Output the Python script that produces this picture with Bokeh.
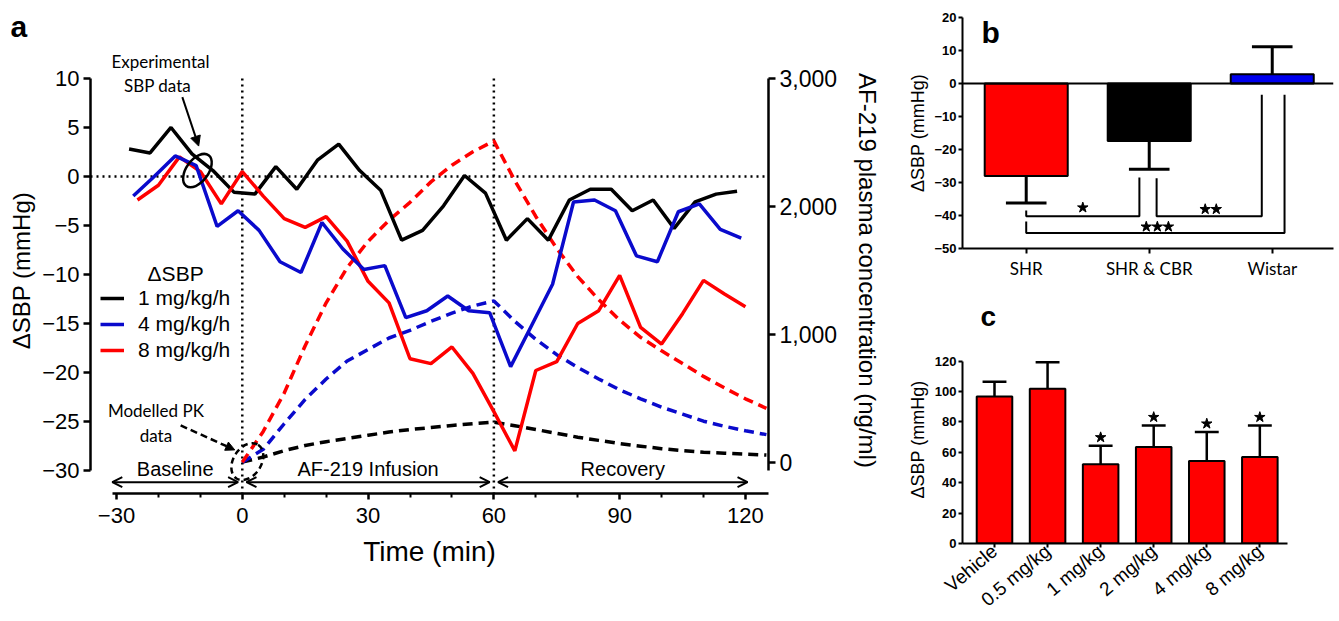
import math
from bokeh.plotting import figure
from bokeh.models import (Range1d, LinearAxis, FixedTicker, Span, Label, Arrow,
                          OpenHead, NormalHead, Legend, LegendItem)
from bokeh.layouts import row, column
from bokeh.embed import file_html
from bokeh.resources import INLINE

# ---------------- Panel a data ----------------
t_1mg = [-27, -22, -17, -12, -7, -2, 3, 8, 13, 18, 23, 28, 33, 38, 43, 48, 53, 58,
         63, 68, 73, 78, 83, 88, 93, 98, 103, 108, 113, 118]
sbp_1mg = [2.8, 2.4, 5.0, 2.3, 0.6, -1.6, -1.8, 1.0, -1.3, 1.7, 3.3, 0.6, -1.4, -6.5,
           -5.5, -3.0, 0.1, -1.7, -6.5, -4.3, -6.5, -2.4, -1.3, -1.3, -3.5, -2.4,
           -5.3, -2.6, -1.8, -1.5]
t_4mg = [-26, -21, -16, -11, -6, -1, 4, 9, 14, 19, 24, 29, 34, 39, 44, 49, 54, 59,
         64, 69, 74, 79, 84, 89, 94, 99, 104, 109, 114, 119]
sbp_4mg = [-2.0, 0.0, 2.1, 1.1, -5.1, -3.5, -5.5, -8.7, -9.8, -4.7, -7.4, -9.5, -9.1,
           -14.4, -13.7, -12.2, -13.7, -13.9, -19.4, -15.2, -11.0, -2.6, -2.4, -3.5,
           -8.1, -8.7, -3.6, -2.8, -5.4, -6.3]
t_8mg = [-25, -20, -15, -10, -5, 0, 5, 10, 15, 20, 25, 30, 35, 40, 45, 50, 55, 60,
         65, 70, 75, 80, 85, 90, 95, 100, 105, 110, 115, 120]
sbp_8mg = [-2.4, -0.9, 2.0, 0.5, -2.8, 0.5, -2.0, -4.3, -5.2, -4.1, -6.6, -10.7, -12.9,
           -18.6, -19.1, -17.4, -20.1, -24.0, -28.0, -19.8, -18.9, -15.0, -13.7, -10.1,
           -15.4, -17.1, -14.0, -10.6, -12.0, -13.3]

t_pk = [0, 5, 10, 15, 20, 25, 30, 35, 40, 45, 50, 55, 60, 65, 70, 75, 80, 85, 90, 95,
        100, 105, 110, 115, 120, 125]
pk_8mg = [0, 240, 540, 910, 1245, 1520, 1725, 1890, 2030, 2190, 2320, 2425, 2510, 2200,
          1920, 1670, 1450, 1270, 1110, 975, 870, 770, 670, 580, 495, 420]
pk_4mg = [0, 100, 300, 490, 650, 790, 880, 970, 1030, 1100, 1165, 1220, 1260, 1100, 960,
          840, 740, 650, 565, 495, 430, 375, 320, 280, 245, 215]
pk_1mg = [0, 40, 90, 130, 160, 185, 210, 235, 255, 270, 287, 300, 312, 285, 255, 225,
          195, 170, 145, 125, 105, 90, 78, 70, 62, 55]

dose_labels = ["1 mg/kg/h", "4 mg/kg/h", "8 mg/kg/h"]
sbp_ticks = [-30, -25, -20, -15, -10, -5, 0, 5, 10]
time_ticks = [-30, 0, 30, 60, 90, 120]
time_minor = [-20, -10, 10, 20, 40, 50, 70, 80, 100, 110]
pk_ticks = [0, 1000, 2000, 3000]
pk_tick_labels = ["0", "1,000", "2,000", "3,000"]
phases = ["Baseline", "AF-219 Infusion", "Recovery"]
phase_start = [-31, 1, 61]
phase_end = [-1, 59, 120.5]
phase_marks = [0, 60]

# ---------------- Panel b data ----------------
groups_b = ["SHR", "SHR & CBR", "Wistar"]
mean_b = [-28.0, -17.4, 2.8]
err_b = [8.2, 8.6, 8.3]
colors_b = ["#ff0000", "#000000", "#0000ee"]
b_ticks = [-50, -40, -30, -20, -10, 0, 10, 20]
sig_left = [0.0, 1.06, 0.0]
sig_right = [0.92, 1.915, 2.10]
sig_level = [-40.2, -40.2, -45.3]
sig_left_top = [-38.5, -28.7, -41.8]
sig_right_top = [-28.5, -3.4, -3.4]
sig_star_n = [1, 2, 3]
sig_star_x = [0.46, 1.50, 1.066]
sig_star_y = [-37.6, -38.1, -43.4]

# ---------------- Panel c data ----------------
groups_c = ["Vehicle", "0.5 mg/kg", "1 mg/kg", "2 mg/kg", "4 mg/kg", "8 mg/kg"]
mean_c = [96.6, 101.7, 52.2, 63.4, 54.3, 56.9]
err_c = [9.7, 17.5, 12.1, 14.2, 19.0, 20.7]
sig_c = [False, False, True, True, True, True]
c_ticks = [0, 20, 40, 60, 80, 100, 120]

ARIAL = "Liberation Sans"
RED = "#ff0000"
BLUE = "#0a0acc"
INK = "black"


def clean(fig):
    fig.xgrid.visible = False
    fig.ygrid.visible = False
    fig.outline_line_color = None
    fig.background_fill_color = "white"
    fig.border_fill_color = "white"


def ink_axis(ax):
    ax.major_label_text_color = INK
    ax.axis_label_text_color = INK
    ax.axis_line_color = INK
    ax.major_tick_line_color = INK
    ax.minor_tick_line_color = INK


def panel_title(fig, size, offset, standoff):
    fig.title.text_font = ARIAL
    fig.title.text_font_size = size
    fig.title.text_font_style = "bold"
    fig.title.text_color = INK
    fig.title.align = "left"
    fig.title.offset = offset
    fig.title.standoff = standoff


def label(fig, x, y, text, font, size, style="normal", baseline="middle"):
    fig.add_layout(Label(x=x, y=y, text=text, text_align="center",
                         text_baseline=baseline, text_font=font, text_font_size=size,
                         text_font_style=style, text_color=INK))


# ================= Panel a =================
Y_TOP = 13.16
p = figure(width=898, height=621, title="a", x_range=Range1d(-36.2, 125.5),
           y_range=Range1d(-32.35, Y_TOP), output_backend="svg", toolbar_location=None,
           min_border_left=90, min_border_right=130, min_border_top=47,
           min_border_bottom=128)
clean(p)
panel_title(p, "30px", -80, 10)
p.extra_y_ranges = {"pk": Range1d(-245, 3240)}

xa = p.xaxis[0]
xa.ticker = FixedTicker(ticks=time_ticks, minor_ticks=time_minor)
xa.major_label_overrides = {t: (str(t).replace("-", "\u2212")) for t in time_ticks}
xa.bounds = (-31, 125.5)
xa.axis_label = "Time (min)"
xa.axis_label_text_font = ARIAL
xa.axis_label_text_font_size = "28px"
xa.axis_label_text_font_style = "normal"
xa.axis_label_standoff = 10
xa.major_label_text_font = ARIAL
xa.major_label_text_font_size = "22px"
xa.major_label_standoff = 8
xa.axis_line_width = 2.5
xa.major_tick_line_width = 2.5
xa.minor_tick_line_width = 2
xa.major_tick_out = 6
xa.major_tick_in = 0
xa.minor_tick_out = 4
xa.minor_tick_in = 0
ink_axis(xa)

ya = p.yaxis[0]
ya.ticker = FixedTicker(ticks=sbp_ticks, minor_ticks=[])
ya.major_label_overrides = {t: (str(t).replace("-", "\u2212")) for t in sbp_ticks}
ya.bounds = (-30, 10)
ya.axis_label = "\u0394SBP (mmHg)"
ya.axis_label_text_font = ARIAL
ya.axis_label_text_font_size = "24px"
ya.axis_label_text_font_style = "normal"
ya.axis_label_standoff = 4
ya.major_label_text_font = ARIAL
ya.major_label_text_font_size = "22px"
ya.major_label_standoff = 4
ya.axis_line_width = 2.5
ya.major_tick_line_width = 2.5
ya.major_tick_out = 7
ya.major_tick_in = 0
ink_axis(ya)

ra = LinearAxis(y_range_name="pk", ticker=FixedTicker(ticks=pk_ticks, minor_ticks=[]),
                major_label_overrides=dict(zip(pk_ticks, pk_tick_labels)),
                bounds=(-62, 3000), axis_label="AF-219 plasma concentration (ng/ml)")
ra.axis_label_text_font = ARIAL
ra.axis_label_text_font_size = "24px"
ra.axis_label_text_font_style = "normal"
ra.axis_label_standoff = 14
ra.major_label_text_font = ARIAL
ra.major_label_text_font_size = "23px"
ra.major_label_standoff = 4
ra.axis_line_width = 2.5
ra.major_tick_line_width = 2.5
ra.major_tick_out = 7
ra.major_tick_in = 0
ink_axis(ra)
p.add_layout(ra, "right")

# reference lines
p.add_layout(Span(location=0, dimension="width", line_color="black", line_width=2.5,
                  line_dash="2 4", level="underlay"))
p.segment(x0=phase_marks, y0=[10] * len(phase_marks), x1=phase_marks,
          y1=[-32.35] * len(phase_marks), line_color="black", line_width=2.5,
          line_dash="2 4", level="underlay")

# modelled PK (dashed)
p.line(t_pk, pk_1mg, y_range_name="pk", line_color="black", line_width=3.5, line_dash="10 6")
p.line(t_pk, pk_4mg, y_range_name="pk", line_color=BLUE, line_width=3.5, line_dash="10 6")
p.line(t_pk, pk_8mg, y_range_name="pk", line_color=RED, line_width=3.5, line_dash="10 6")

# experimental SBP
r1 = p.line(t_1mg, sbp_1mg, line_color="black", line_width=3.5)
r8 = p.line(t_8mg, sbp_8mg, line_color=RED, line_width=3.5)
r4 = p.line(t_4mg, sbp_4mg, line_color=BLUE, line_width=3.5)

legend = Legend(items=[LegendItem(label=dose_labels[0], renderers=[r1]),
                       LegendItem(label=dose_labels[1], renderers=[r4]),
                       LegendItem(label=dose_labels[2], renderers=[r8])],
                location=(10, 131), padding=0, margin=0, spacing=2,
                glyph_width=24, glyph_height=20, label_height=20, label_standoff=14,
                label_text_font=ARIAL, label_text_font_size="21px",
                label_text_color=INK,
                background_fill_alpha=0, border_line_alpha=0)
p.add_layout(legend)
label(p, -15.9, -9.9, "\u0394SBP", ARIAL, "21px")

# phase annotations
for name, s, e in zip(phases, phase_start, phase_end):
    p.add_layout(Arrow(x_start=s, y_start=-31.2, x_end=e, y_end=-31.2,
                       line_width=2, line_color="black",
                       start=OpenHead(size=10, line_width=2, line_color="black"),
                       end=OpenHead(size=10, line_width=2, line_color="black")))
    label(p, (s + e) / 2, -29.9, name, ARIAL, "20px")

# call-outs
label(p, -19.5, 11.7, "Experimental", "Lato", "17px")
label(p, -20.2, 9.25, "SBP data", "Lato", "17px")
p.add_layout(Arrow(x_start=-14.3, y_start=8.1, x_end=-10.4, y_end=3.1, line_width=2,
                   end=NormalHead(size=10, fill_color="black", line_color="black")))
p.ellipse(x=[-10.7], y=[0.6], width=38, height=22, angle=0.94, width_units="screen",
          height_units="screen", fill_color=None, line_color="black", line_width=2.5)

label(p, -20.6, -23.9, "Modelled PK", "Lato", "17px")
label(p, -20.6, -26.4, "data", "Lato", "17px")
p.add_layout(Arrow(x_start=-14.7, y_start=-25.4, x_end=-1.8, y_end=-27.9, line_width=2.5,
                   line_dash="7 4",
                   end=NormalHead(size=9, fill_color="black", line_color="black")))
p.ellipse(x=[1.2], y=[-29.1], width=40, height=28, angle=1.0, width_units="screen",
          height_units="screen", fill_color=None, line_color="black", line_width=2.5,
          line_dash="6 4")

# ================= Panel b =================
xb = list(range(len(groups_b)))
pb = figure(width=441, height=290, x_range=Range1d(-0.518, 2.498),
            y_range=Range1d(-50, 20), output_backend="svg", toolbar_location=None,
            min_border_left=64, min_border_right=6, min_border_top=17,
            min_border_bottom=42)
clean(pb)
pb.vbar(x=xb, top=mean_b, bottom=0, width=0.675, fill_color=colors_b,
        line_color="black", line_width=2)
err_end_b = [m - e if m < 0 else m + e for m, e in zip(mean_b, err_b)]
pb.segment(x0=xb, y0=mean_b, x1=xb, y1=err_end_b, line_color="black", line_width=3)
pb.segment(x0=[x - 0.165 for x in xb], y0=err_end_b, x1=[x + 0.165 for x in xb],
           y1=err_end_b, line_color="black", line_width=3)
pb.add_layout(Span(location=0, dimension="width", line_color="black", line_width=2))
pb.multi_line(xs=[[l, l, r, r] for l, r in zip(sig_left, sig_right)],
              ys=[[lt, lv, lv, rt] for lt, lv, rt in zip(sig_left_top, sig_level, sig_right_top)],
              line_color="black", line_width=2)
star_x, star_y = [], []
for n, sx, sy in zip(sig_star_n, sig_star_x, sig_star_y):
    for k in range(n):
        star_x.append(sx + (k - (n - 1) / 2) * 0.09)
        star_y.append(sy)
pb.scatter(star_x, star_y, marker="star", size=11, fill_color="black", line_color="black")

xbx = pb.xaxis[0]
xbx.ticker = FixedTicker(ticks=xb, minor_ticks=[])
xbx.major_label_overrides = dict(zip(xb, groups_b))
xbx.major_label_text_font = "Lato"
xbx.major_label_text_font_size = "17px"
xbx.major_label_standoff = 4
xbx.axis_line_width = 2
xbx.major_tick_line_width = 2
xbx.major_tick_out = 5
xbx.major_tick_in = 0
ink_axis(xbx)

ybx = pb.yaxis[0]
ybx.ticker = FixedTicker(ticks=b_ticks, minor_ticks=[])
ybx.axis_label = "\u0394SBP (mmHg)"
ybx.axis_label_text_font = ARIAL
ybx.axis_label_text_font_size = "18px"
ybx.axis_label_text_font_style = "normal"
ybx.axis_label_standoff = 3
ybx.major_label_text_font = ARIAL
ybx.major_label_text_font_size = "13px"
ybx.major_label_text_font_style = "bold"
ybx.major_label_standoff = 2
ybx.axis_line_width = 2
ybx.major_tick_line_width = 2
ybx.major_tick_out = 4
ybx.major_tick_in = 0
ink_axis(ybx)
label(pb, -0.29, 15.4, "b", ARIAL, "30px", style="bold", baseline="alphabetic")

# ================= Panel c =================
# frame shares b's horizontal borders (column aligns frames); axis line bounded
xc = list(range(len(groups_c)))
pc = figure(width=441, height=331, title="c", x_range=Range1d(-0.603, 6.388),
            y_range=Range1d(0, 136.8), output_backend="svg", toolbar_location=None,
            min_border_left=64, min_border_right=6, min_border_top=45,
            min_border_bottom=74)
clean(pc)
panel_title(pc, "28px", 18, 8)
pc.vbar(x=xc, top=mean_c, bottom=0, width=0.67, fill_color=RED, line_color="black",
        line_width=2)
err_top_c = [m + e for m, e in zip(mean_c, err_c)]
pc.segment(x0=xc, y0=mean_c, x1=xc, y1=err_top_c, line_color="black", line_width=2.5)
pc.segment(x0=[x - 0.225 for x in xc], y0=err_top_c, x1=[x + 0.225 for x in xc],
           y1=err_top_c, line_color="black", line_width=2.5)
pc.scatter([x for x, s in zip(xc, sig_c) if s],
           [t + 5.5 for t, s in zip(err_top_c, sig_c) if s],
           marker="star", size=11, fill_color="black", line_color="black")

xcx = pc.xaxis[0]
xcx.ticker = FixedTicker(ticks=xc, minor_ticks=[])
xcx.major_label_overrides = dict(zip(xc, groups_c))
xcx.major_label_orientation = 0.7
xcx.bounds = (-0.603, 5.52)
xcx.major_label_text_font = ARIAL
xcx.major_label_text_font_size = "19px"
xcx.major_label_standoff = 1
xcx.axis_line_width = 2
xcx.major_tick_line_width = 2
xcx.major_tick_out = 4
xcx.major_tick_in = 0
ink_axis(xcx)

ycx = pc.yaxis[0]
ycx.ticker = FixedTicker(ticks=c_ticks, minor_ticks=[])
ycx.bounds = (0, 120)
ycx.axis_label = "\u0394SBP (mmHg)"
ycx.axis_label_text_font = ARIAL
ycx.axis_label_text_font_size = "18px"
ycx.axis_label_text_font_style = "normal"
ycx.axis_label_standoff = 4
ycx.major_label_text_font = ARIAL
ycx.major_label_text_font_size = "13px"
ycx.major_label_text_font_style = "bold"
ycx.major_label_standoff = 2
ycx.axis_line_width = 2
ycx.major_tick_line_width = 2
ycx.major_tick_out = 4
ycx.major_tick_in = 0
ink_axis(ycx)

layout = row(p, column(pb, pc))
open("out.html", "w").write(file_html(layout, INLINE))
